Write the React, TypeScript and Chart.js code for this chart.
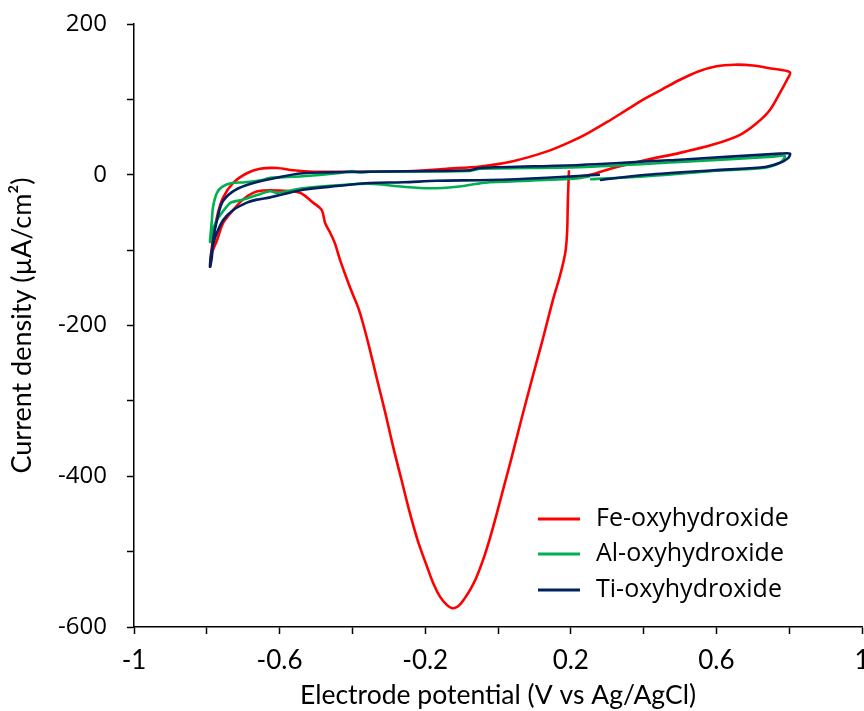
import React, { useEffect, useRef } from "react";
import { Chart, registerables } from "chart.js";

Chart.register(...registerables);

// ---- Data ----
const seriesNames = ["Fe-oxyhydroxide", "Al-oxyhydroxide", "Ti-oxyhydroxide"];
const seriesColors = ["#FF0000", "#00B050", "#002060"];

const feX = [
  0.195, 0.192, 0.19, 0.186, 0.18, 0.168, 0.151, 0.122, 0.093, 0.064, 0.036, 0.016, -0.003,
  -0.022, -0.041, -0.06, -0.077, -0.093, -0.104, -0.115, -0.126, -0.14, -0.159, -0.177, -0.195,
  -0.22, -0.242, -0.265, -0.288, -0.31, -0.332, -0.352, -0.371, -0.385, -0.407, -0.434, -0.448,
  -0.462, -0.475, -0.484, -0.508, -0.544, -0.599, -0.646, -0.673, -0.701, -0.728, -0.755, -0.772,
  -0.786, -0.791, -0.786, -0.772, -0.755, -0.728, -0.69, -0.654, -0.607, -0.563, -0.508, -0.415,
  -0.324, -0.234, -0.14, -0.049, 0.041, 0.135, 0.2, 0.25, 0.3, 0.35, 0.4, 0.45, 0.5, 0.55, 0.6,
  0.65, 0.7, 0.75, 0.802, 0.794, 0.775, 0.747, 0.712, 0.665, 0.591, 0.5, 0.409, 0.316, 0.253,
  0.198,
];
const feY = [
  6, -33, -75, -100, -115, -138, -166, -220, -272, -325, -378, -414, -449,
  -482, -511, -535, -551, -563, -570, -574, -575, -571, -560, -543, -520,
  -486, -449, -405, -361, -315, -272, -232, -197, -175, -149, -113, -91,
  -76, -64, -47, -37, -24, -21, -21, -24, -33, -47, -64, -87,
  -104, -122, -96, -56, -30, -11, 2, 8, 9, 6, 4, 4,
  4, 5, 8, 11, 18, 31, 44, 56, 70, 85, 100, 113, 126, 137, 144,
  146, 145, 141, 136, 126, 109, 86, 69, 53, 40, 29, 20, 9, 0,
  -4,
];

const alX = [
  0.253, 0.217, -0.022, -0.058, -0.113, -0.187, -0.261, -0.352, -0.442, -0.536, -0.607, -0.626,
  -0.662, -0.699, -0.734, -0.753, -0.772, -0.786, -0.791,
  -0.791, -0.786, -0.783, -0.772, -0.758, -0.731, -0.695, -0.648, -0.626, -0.536, -0.442, -0.4,
  -0.38, -0.352, -0.077, -0.049, 0.225, 0.5, 0.755, 0.788, 0.775, 0.728, 0.591, 0.409, 0.253,
];
const alY = [
  -2, -5, -10, -12, -16, -18, -16, -12, -14, -18, -24, -22,
  -27, -33, -37, -47, -60, -77, -89,
  -86, -60, -43, -24, -16, -11, -10, -7, -4, -2, 2, 5,
  3, 4, 5, 8, 10, 17, 24, 25, 16, 9, 5, -2, -6,
];

const tiX = [
  0.28, 0.135, -0.022, -0.168, -0.261, -0.352, -0.442, -0.536, -0.626, -0.662, -0.69, -0.728,
  -0.755, -0.777, -0.786, -0.791,
  -0.786, -0.783, -0.772, -0.758, -0.731, -0.692, -0.629, -0.536, -0.352, -0.077, -0.049,
  0.225, 0.5, 0.775, 0.802, 0.797, 0.775, 0.728, 0.591, 0.409, 0.28,
];
const tiY = [
  0, -4, -7, -8, -10, -11, -15, -20, -30, -33, -37, -47,
  -60, -83, -100, -122,
  -109, -87, -60, -37, -23, -14, -6, 2, 4, 6, 9,
  13, 20, 28, 28, 22, 16, 10, 6, 0, -7,
];

const xTickValues = [-1, -0.8, -0.6, -0.4, -0.2, 0, 0.2, 0.4, 0.6, 0.8, 1];
const xLabelValues = [-1, -0.6, -0.2, 0.2, 0.6, 1];
const xTickLabels = ["-1", "-0.6", "-0.2", "0.2", "0.6", "1"];
const yTickValues = [-600, -500, -400, -300, -200, -100, 0, 100, 200];
const yLabelValues = [-600, -400, -200, 0, 200];
const yTickLabels = ["-600", "-400", "-200", "0", "200"];

const xTitle = "Electrode potential (V vs Ag/AgCl)";
const yTitle = "Current density (\u00B5A/cm\u00B2)";

function zip(xs: number[], ys: number[]) {
  return xs.map((x, i) => ({ x, y: ys[i] }));
}

function labelFor(v: number, values: number[], labels: string[]) {
  const i = values.findIndex((w) => Math.abs(w - v) < 1e-6);
  return i >= 0 ? labels[i] : "";
}

const insideLegend = {
  id: "insideLegend",
  afterDatasetsDraw(chart: any) {
    const ctx = chart.ctx;
    const x0 = 538;
    const x1 = 580;
    const tx = 596;
    const ys = [519, 554, 590];
    ctx.save();
    ctx.font = "25px 'Open Sans'";
    ctx.textBaseline = "middle";
    ctx.textAlign = "left";
    chart.data.datasets.forEach((ds: any, i: number) => {
      ctx.strokeStyle = ds.borderColor;
      ctx.lineWidth = 3;
      ctx.beginPath();
      ctx.moveTo(x0, ys[i]);
      ctx.lineTo(x1, ys[i]);
      ctx.stroke();
      ctx.fillStyle = "#000";
      ctx.fillText(ds.label, tx, ys[i]);
    });
    ctx.restore();
  },
};

export default function App() {
  const ref = useRef<HTMLCanvasElement | null>(null);

  useEffect(() => {
    if (!ref.current) return;
    const ys = [feY, alY, tiY];
    const xs = [feX, alX, tiX];
    const chart = new Chart(ref.current, {
      type: "scatter",
      data: {
        datasets: seriesNames.map((name, i) => ({
          label: name,
          data: zip(xs[i], ys[i]),
          showLine: true,
          borderColor: seriesColors[i],
          backgroundColor: seriesColors[i],
          borderWidth: 2.6,
          pointRadius: 0,
          tension: 0.3,
          order: 2 - i,
        })),
      },
      options: {
        responsive: false,
        animation: false,
        layout: { padding: { top: 24, right: 2, left: 0, bottom: 0 } },
        plugins: {
          legend: { display: false },
          tooltip: { enabled: false },
        },
        scales: {
          x: {
            type: "linear",
            min: -1,
            max: 1,
            afterBuildTicks: (s: any) => {
              s.ticks = xTickValues.map((v) => ({ value: v }));
            },
            afterFit: (s: any) => {
              s.height = 84;
              s.paddingLeft = 0;
              s.paddingRight = 0;
            },
            ticks: {
              autoSkip: false,
              maxRotation: 0,
              padding: 11,
              color: "#000",
              font: { family: "Lato", size: 26 },
              callback: (v: any) => labelFor(Number(v), xLabelValues, xTickLabels),
            },
            grid: {
              drawOnChartArea: false,
              drawTicks: true,
              tickLength: 7,
              tickColor: "#000",
              tickWidth: 1.5,
            },
            border: { display: true, color: "#000", width: 1.5 },
            title: {
              display: true,
              text: xTitle,
              color: "#000",
              font: { family: "Lato", size: 26.5 },
              padding: { top: 0, bottom: 0 },
            },
          },
          y: {
            type: "linear",
            min: -600,
            max: 200,
            afterBuildTicks: (s: any) => {
              s.ticks = yTickValues.map((v) => ({ value: v }));
            },
            afterFit: (s: any) => {
              s.width = 134;
              s.paddingTop = 0;
              s.paddingBottom = 0;
            },
            ticks: {
              autoSkip: false,
              padding: 20,
              color: "#000",
              font: { family: "Open Sans", size: 24 },
              callback: (v: any) => labelFor(Number(v), yLabelValues, yTickLabels),
            },
            grid: {
              drawOnChartArea: false,
              drawTicks: true,
              tickLength: 7,
              tickColor: "#000",
              tickWidth: 1.5,
            },
            border: { display: true, color: "#000", width: 1.5 },
            title: {
              display: true,
              text: yTitle,
              color: "#000",
              font: { family: "Lato", size: 27 },
              padding: { top: 6, bottom: 0 },
            },
          },
        },
      },
      plugins: [insideLegend],
    });
    return () => chart.destroy();
  }, []);

  return (
    <div style={{ position: "absolute", left: 0, top: 0, width: 864, height: 711, background: "#fff" }}>
      <canvas ref={ref} width={864} height={711} />
    </div>
  );
}
